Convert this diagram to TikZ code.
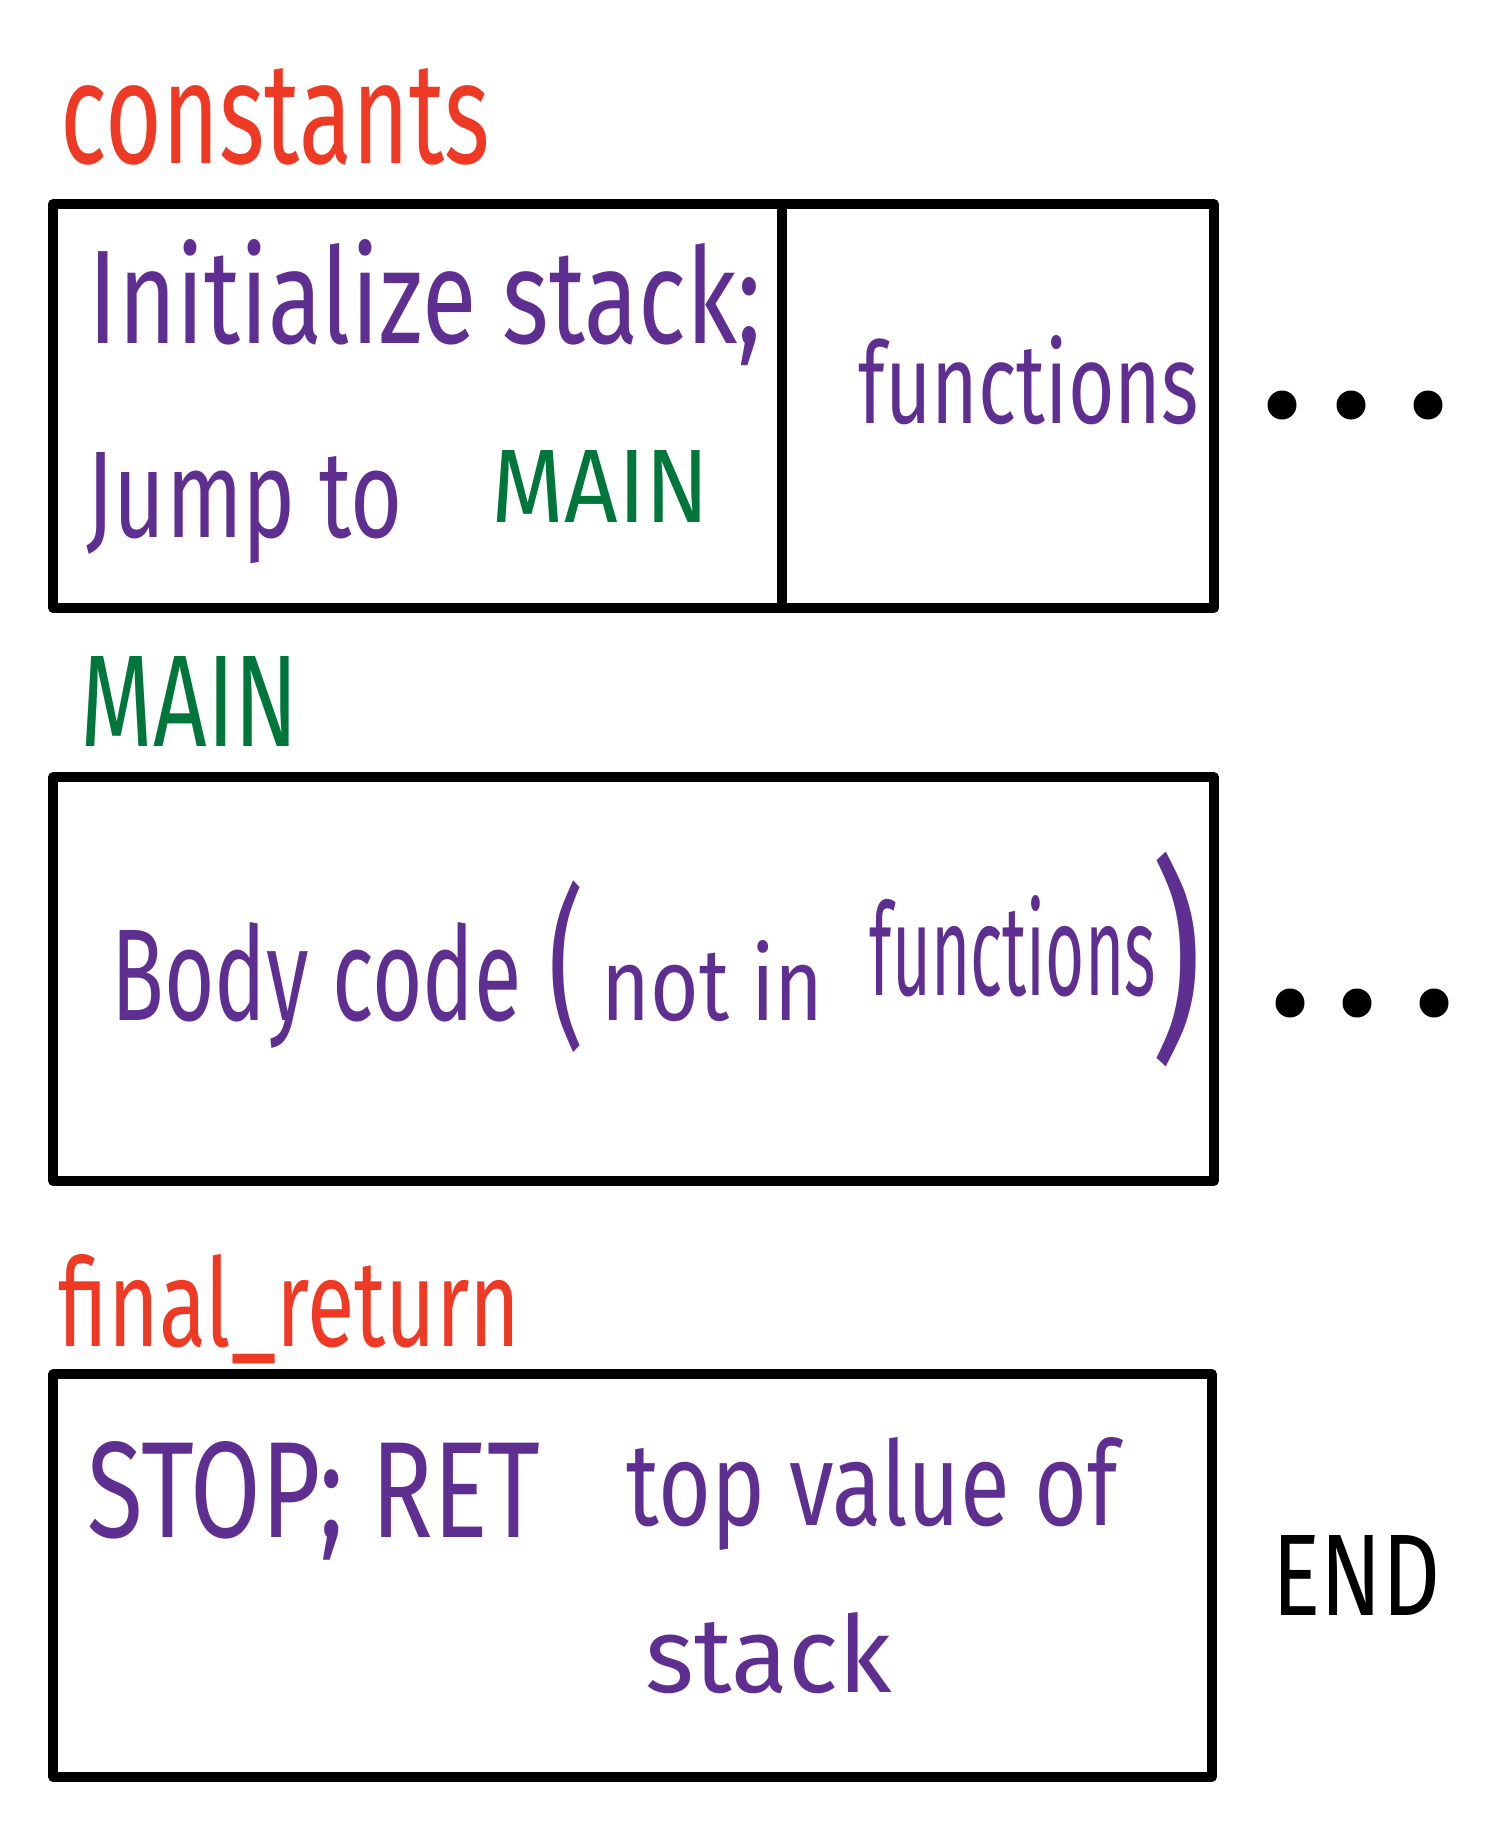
\documentclass[tikz,border=0pt]{standalone}
\usepackage{fontspec}
\setmainfont{Fira Sans}
\usepackage{graphicx}
\newlength\pxu\setlength\pxu{0.01cm}
\newcommand{\hw}[3]{\resizebox{#1\pxu}{#2\pxu}{#3}}
\newcommand{\hwt}[3]{\resizebox*{#1\pxu}{#2\pxu}{#3}}
\definecolor{lblred}{HTML}{EE3A24}
\definecolor{pen}{HTML}{5E2E91}
\definecolor{lblgreen}{HTML}{00763A}
\tikzset{txt/.style={inner sep=0,anchor=base west,font=\Large},
  seg/.style={draw,line width=2.6pt,line join=round}}
\begin{document}
\begin{tikzpicture}[x=0.01cm,y=-0.01cm]
\useasboundingbox(0,0)rectangle(1511,1836);
% labels
\node[txt,lblred](cons)at(60,163){\hw{429}{95}{constants}};
\node[txt,lblgreen](mainlbl)at(80,746){\hw{218}{90}{MAIN}};
\node[txt,lblred](finlbl)at(58,1346){\hw{462}{92}{final\_return}};
% boxes
\draw[seg](53,204)rectangle(1214,608)(782,204)--(782,608);
\draw[seg](53,777)rectangle(1214,1181);
\draw[seg](53,1374)rectangle(1212,1777);
% first block
\node[txt,pen](init)at(88,343){\hw{673}{104}{Initialize stack;}};
\node[txt,pen](jump)at(86,537){\hw{316}{85}{Jump to}};
\node[txt,lblgreen](mainA)at(491,522){\hw{218}{72}{MAIN}};
\node[txt,pen](funcA)at(858,423){\hw{340}{88}{functions}};
\fill(1282,405)circle(14.5)(1351,405)circle(14.5)(1428,405)circle(14.5);
% MAIN block
\node[txt,pen](body)at(111,1020){\hw{410}{98}{Body code}};
\node[txt,pen,anchor=north west](lpar)at(548,880){\hwt{36}{172}{(}};
\node[txt,pen](notin)at(601,1020){\hw{222}{80}{not in}};
\node[txt,pen](funcB)at(869,995){\hw{286}{100}{functions}};
\node[txt,pen,anchor=north west](rpar)at(1150,851){\hwt{52}{215}{)}};
\fill(1290,1003)circle(14.5)(1357,1003)circle(14.5)(1434,1003)circle(14.5);
% final block
\node[txt,pen](stopret)at(87,1537){\hw{453}{96}{STOP; RET}};
\node[txt,pen](topval)at(626,1525){\hw{491}{88}{top value of}};
\node[txt,pen](stk)at(645,1692){\hw{246}{80}{stack}};
\node[txt](endlbl)at(1272,1615){\hw{168}{80}{END}};
\end{tikzpicture}
\end{document}
